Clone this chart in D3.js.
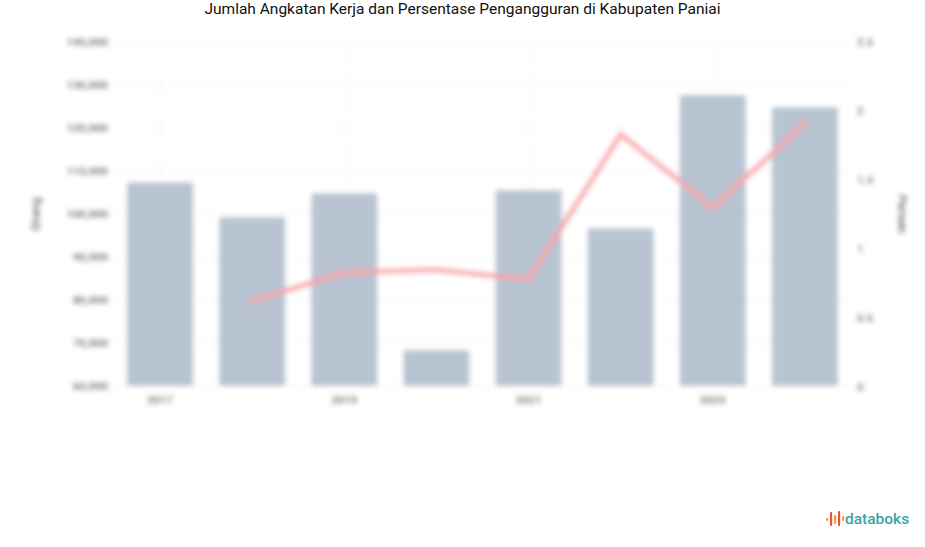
<!DOCTYPE html>
<html><head><meta charset="utf-8">
<script src="https://cdn.jsdelivr.net/npm/d3@7"></script>
<style>body{margin:0;background:#fff;font-family:Roboto,"Noto Sans",sans-serif;}</style>
</head><body>
<svg id="c" width="925" height="547"></svg>
<script>
const years = ["2017","2018","2019","2020","2021","2022","2023","2024"];
const angkatanKerja = [107400, 99300, 104900, 68400, 105600, 96700, 127700, 124900];
const pengangguran = [null, 0.62, 0.83, 0.85, 0.78, 1.83, 1.30, 1.91];
const leftTicks = [60000,70000,80000,90000,100000,110000,120000,130000,140000];
const rightTicks = [0,0.5,1,1.5,2,2.5];
const xLabels = ["2017","2019","2021","2023"];

const svg = d3.select("#c");
const W = 925, H = 547;
const m = {l:114, r:851, t:42, b:386};

const defs = svg.append("defs");
defs.append("filter").attr("id","blur").attr("x","-5%").attr("y","-5%").attr("width","110%").attr("height","110%")
  .append("feGaussianBlur").attr("stdDeviation", 2.6);

svg.append("text").attr("x", W/2).attr("y", 14).attr("text-anchor","middle")
  .attr("font-size", 15.5).attr("fill", "#111").text("Jumlah Angkatan Kerja dan Persentase Pengangguran di Kabupaten Paniai");

const g = svg.append("g").attr("id","chart").attr("filter","url(#blur)");
g.append("rect").attr("x",0).attr("y",30).attr("width",W).attr("height",400).attr("fill","#fff");
const x = d3.scaleBand().domain(years).range([m.l, m.r]).paddingInner(0.28).paddingOuter(0.14);
const yL = d3.scaleLinear().domain([60000,140000]).range([m.b, m.t]);
const yR = d3.scaleLinear().domain([0,2.5]).range([m.b+1, m.t]);

// grid
g.append("g").selectAll("line").data(leftTicks).join("line")
  .attr("x1", m.l).attr("x2", m.r).attr("y1", d=>yL(d)).attr("y2", d=>yL(d))
  .attr("stroke", "#e2e2e2").attr("stroke-dasharray","3,3");
g.append("g").selectAll("line").data(xLabels).join("line")
  .attr("x1", d=>x(d)+x.bandwidth()/2).attr("x2", d=>x(d)+x.bandwidth()/2)
  .attr("y1", m.t).attr("y2", m.b).attr("stroke", "#e2e2e2").attr("stroke-dasharray","3,3");

// bars
g.append("g").selectAll("rect").data(years).join("rect")
  .attr("x", d=>x(d)).attr("width", x.bandwidth())
  .attr("y", (d,i)=>yL(angkatanKerja[i])).attr("height", (d,i)=>m.b - yL(angkatanKerja[i]))
  .attr("fill", "#b8c4d2").attr("rx", 2);

// line
const pts = years.map((d,i)=>({x:x(d)+x.bandwidth()/2, v:pengangguran[i]})).filter(p=>p.v!=null);
g.append("path").datum(pts)
  .attr("d", d3.line().x(p=>p.x).y(p=>yR(p.v)))
  .attr("fill","none").attr("stroke","#f8a4a9").attr("stroke-width",5.5).attr("stroke-opacity",0.9)
  .attr("stroke-linecap","round").attr("stroke-linejoin","round");

// axes
const axL = d3.axisLeft(yL).tickValues(leftTicks).tickFormat(d3.format(",")).tickSize(0).tickPadding(6);
const gl = g.append("g").attr("transform", `translate(${m.l},0)`).call(axL);
const axR = d3.axisRight(yR).tickValues(rightTicks).tickFormat(d=>String(d)).tickSize(0).tickPadding(6);
const gr = g.append("g").attr("transform", `translate(${m.r},0)`).call(axR);
const axB = d3.axisBottom(x).tickValues(xLabels).tickSize(0).tickPadding(10);
const gb = g.append("g").attr("transform", `translate(0,${m.b})`).call(axB);
[gl,gr,gb].forEach(a=>{ a.select(".domain").remove(); a.selectAll("text").attr("font-size",11.5).attr("font-weight",500).attr("fill","#333").attr("font-family","Roboto,sans-serif"); });

g.append("text").attr("transform", `translate(40,${(m.t+m.b)/2}) rotate(-90)`).attr("text-anchor","middle")
  .attr("font-size",12.5).attr("font-weight",500).attr("fill","#333").text("Orang");
g.append("text").attr("transform", `translate(898,${(m.t+m.b)/2}) rotate(90)`).attr("text-anchor","middle")
  .attr("font-size",12.5).attr("font-weight",500).attr("fill","#333").text("Persen");

// logo
const logo = svg.append("g").attr("transform","translate(826,512)");
const bars = [[0,6,3],[4,0,14],[8,3,9],[12,-1,15],[16,4,5]];
logo.selectAll("rect").data(bars).join("rect")
  .attr("x", d=>d[0]).attr("y", d=>d[1]).attr("width",2.2).attr("height", d=>d[2]).attr("rx",1)
  .attr("fill", (d,i)=> i%2 ? "#e8553a" : "#f39a3c");
logo.append("text").attr("x", 19).attr("y", 12).attr("font-size", 15.5).attr("font-weight", 500)
  .attr("fill", "#3aa5a3").attr("font-family","Roboto,sans-serif").text("databoks");
</script>
</body></html>
